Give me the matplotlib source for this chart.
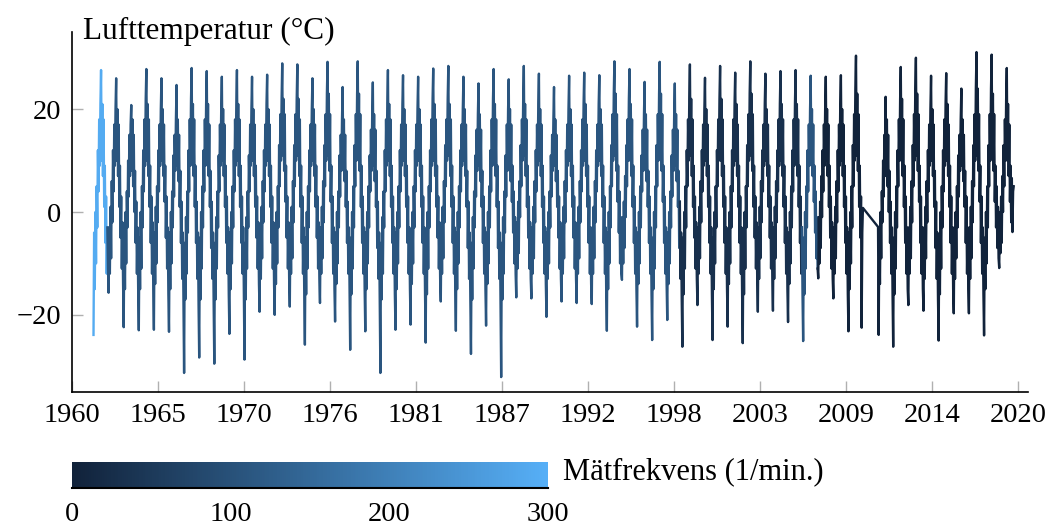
import numpy as np
import matplotlib.pyplot as plt
from matplotlib.colors import LinearSegmentedColormap, Normalize
from matplotlib.cm import ScalarMappable

plt.rcParams['font.family'] = ['Liberation Serif', 'DejaVu Serif']

# =====================================================
# Data
# =====================================================

# time span of the two recorded parts, data gap in between
start_a, end_a = 1961.364, 2010.16
start_b, end_b = 2011.12, 2019.725

# one row per seasonal cycle (half-month steps), winter low first,
# summer high in the middle
rows_a = [
    [-23.9, -4, -15, 0, -10, 5, -3, 12, 4, 18, 9, 21, 27.6, 10, 21, 7, 18, 1, 9, -6, 3, -12, -3, -11],
    [-15.7, -3, -12, 1, -9, 6, -2, 12, 4, 17, 9, 20, 26.0, 10, 20, 7, 17, 1, 9, -5, 3, -11, -2, -14],
    [-22.4, -4, -15, 0, -10, 4, -3, 10, 3, 15, 7, 17, 20.8, 8, 18, 5, 15, 0, 8, -6, 2, -12, -3, -15],
    [-23.0, -5, -15, 0, -11, 5, -3, 12, 4, 18, 9, 22, 27.8, 10, 21, 7, 18, 1, 9, -6, 3, -12, -2, -15],
    [-22.9, -4, -14, 1, -10, 5, -2, 12, 4, 17, 9, 20, 26.0, 10, 20, 7, 17, 2, 9, -5, 3, -11, -3, -16],
    [-23.3, -4, -15, 0, -10, 4, -3, 11, 3, 15, 8, 18, 24.7, 9, 18, 6, 15, 1, 8, -6, 2, -13, -4, -17],
    [-31.3, -6, -17, -1, -12, 4, -4, 12, 4, 18, 9, 22, 28.0, 10, 21, 7, 18, 1, 9, -6, 2, -13, -4, -18],
    [-28.3, -5, -17, 0, -11, 5, -3, 12, 4, 18, 9, 21, 27.4, 10, 21, 7, 17, 1, 8, -7, 2, -13, -4, -18],
    [-29.5, -6, -17, -1, -11, 4, -3, 11, 4, 17, 9, 20, 26.3, 10, 20, 7, 17, 1, 9, -6, 3, -12, -3, -16],
    [-23.7, -4, -15, 0, -10, 5, -3, 12, 4, 18, 9, 21, 27.6, 10, 21, 7, 18, 1, 9, -6, 3, -12, -3, -17],
    [-28.7, -6, -17, -1, -11, 4, -3, 11, 4, 17, 9, 20, 26.3, 10, 20, 7, 17, 1, 9, -5, 3, -11, -2, -14],
    [-19.4, -3, -13, 1, -9, 6, -2, 12, 4, 17, 9, 21, 26.7, 10, 20, 7, 17, 1, 9, -6, 3, -11, -2, -14],
    [-20.0, -4, -14, 0, -10, 5, -3, 13, 5, 19, 10, 22, 28.9, 11, 22, 8, 19, 2, 9, -5, 3, -11, -2, -13],
    [-18.4, -3, -12, 1, -9, 6, -2, 13, 5, 19, 10, 22, 28.7, 11, 22, 7, 18, 1, 9, -6, 3, -12, -3, -16],
    [-25.8, -5, -16, 0, -11, 5, -3, 12, 4, 17, 9, 20, 26.0, 10, 20, 7, 17, 1, 9, -5, 3, -11, -2, -13],
    [-17.7, -3, -12, 1, -9, 6, -2, 13, 5, 19, 10, 23, 29.2, 11, 23, 8, 19, 2, 9, -6, 3, -12, -3, -15],
    [-21.3, -4, -14, 0, -10, 4, -3, 11, 3, 15, 8, 18, 24.3, 9, 18, 6, 15, 1, 8, -6, 2, -12, -3, -16],
    [-26.8, -5, -16, 0, -11, 5, -3, 13, 5, 19, 10, 23, 29.3, 11, 23, 8, 19, 1, 9, -6, 3, -12, -3, -15],
    [-23.2, -4, -15, 0, -10, 5, -3, 11, 4, 16, 8, 19, 25.2, 9, 19, 6, 16, 1, 8, -7, 2, -13, -4, -17],
    [-31.3, -6, -17, -1, -12, 4, -3, 12, 4, 18, 9, 21, 27.6, 10, 21, 7, 18, 1, 9, -6, 3, -12, -3, -16],
    [-22.9, -4, -15, 0, -10, 5, -3, 12, 4, 17, 9, 21, 26.6, 10, 20, 7, 17, 1, 9, -6, 3, -12, -3, -15],
    [-21.9, -4, -14, 0, -10, 5, -3, 12, 4, 17, 9, 20, 26.3, 10, 20, 7, 17, 1, 9, -6, 3, -12, -3, -16],
    [-25.4, -5, -16, 0, -11, 5, -3, 12, 4, 18, 9, 22, 27.9, 10, 21, 7, 18, 1, 9, -5, 3, -11, -2, -13],
    [-17.4, -3, -12, 1, -9, 6, -2, 13, 5, 18, 10, 22, 28.4, 11, 21, 7, 18, 1, 9, -6, 3, -12, -3, -15],
    [-23.1, -4, -15, 0, -10, 5, -3, 12, 4, 17, 9, 20, 26.3, 10, 20, 7, 17, 1, 8, -7, 2, -13, -4, -17],
    [-27.6, -6, -17, -1, -11, 4, -3, 11, 3, 16, 8, 19, 25.0, 9, 19, 6, 16, 1, 8, -6, 3, -12, -3, -15],
    [-22.1, -4, -14, 0, -10, 5, -3, 12, 4, 18, 9, 22, 27.8, 10, 21, 7, 18, 1, 9, -7, 2, -13, -4, -18],
    [-32.1, -6, -17, -1, -12, 4, -4, 11, 3, 17, 8, 20, 25.8, 9, 20, 6, 17, 2, 9, -4, 4, -10, -1, -12],
    [-16.6, -2, -11, 2, -8, 6, -1, 13, 5, 18, 10, 22, 28.4, 11, 21, 7, 18, 1, 9, -5, 3, -11, -2, -13],
    [-16.8, -3, -12, 1, -9, 6, -2, 12, 4, 17, 9, 21, 26.9, 10, 20, 7, 17, 1, 9, -6, 3, -12, -3, -14],
    [-20.4, -4, -13, 0, -10, 4, -3, 11, 3, 15, 8, 18, 24.3, 9, 18, 6, 15, 1, 8, -5, 3, -11, -2, -13],
    [-17.4, -3, -12, 1, -9, 6, -2, 12, 4, 17, 9, 20, 26.5, 10, 20, 7, 17, 1, 9, -5, 3, -11, -2, -13],
    [-17.7, -3, -12, 1, -9, 6, -2, 12, 4, 18, 9, 21, 27.1, 10, 21, 7, 17, 1, 9, -6, 3, -12, -3, -14],
    [-17.9, -3, -12, 1, -9, 6, -2, 12, 4, 17, 9, 21, 26.6, 10, 20, 7, 17, 1, 9, -6, 3, -12, -3, -16],
    [-23.1, -4, -15, 0, -10, 5, -3, 13, 5, 19, 10, 23, 29.3, 11, 23, 8, 19, 2, 9, -4, 4, -10, -1, -12],
    [-13.2, -1, -10, 2, -7, 7, -1, 13, 5, 18, 10, 22, 27.8, 10, 21, 7, 18, 1, 9, -6, 3, -12, -3, -15],
    [-22.3, -4, -14, 0, -10, 5, -3, 11, 4, 16, 8, 19, 25.3, 9, 19, 6, 16, 1, 8, -6, 3, -12, -3, -16],
    [-24.9, -5, -15, 0, -11, 5, -3, 13, 5, 19, 10, 23, 29.2, 11, 23, 8, 19, 2, 9, -6, 3, -12, -3, -14],
    [-21.0, -4, -14, 0, -10, 4, -3, 11, 3, 16, 8, 19, 25.0, 9, 19, 6, 16, 1, 8, -7, 2, -13, -4, -17],
    [-26.2, -5, -16, 0, -11, 5, -3, 12, 5, 18, 10, 22, 28.7, 11, 22, 7, 18, 1, 9, -5, 3, -11, -2, -13],
    [-18.1, -3, -12, 1, -9, 6, -2, 12, 4, 17, 9, 20, 26.1, 10, 20, 7, 17, 1, 9, -6, 3, -12, -3, -16],
    [-24.9, -5, -15, 0, -10, 5, -3, 12, 5, 18, 10, 22, 28.4, 10, 22, 7, 18, 1, 9, -6, 3, -12, -3, -15],
    [-22.3, -4, -14, 0, -10, 5, -3, 12, 4, 18, 9, 21, 27.1, 10, 21, 7, 17, 1, 9, -6, 3, -12, -3, -16],
    [-25.5, -5, -16, 0, -11, 5, -3, 13, 5, 19, 10, 23, 29.3, 11, 23, 8, 19, 1, 9, -5, 3, -11, -2, -13],
    [-19.4, -3, -13, 1, -9, 6, -2, 12, 4, 17, 9, 21, 26.9, 10, 20, 7, 17, 1, 9, -5, 3, -11, -2, -13],
    [-19.2, -3, -13, 1, -9, 6, -2, 12, 4, 18, 9, 21, 27.4, 10, 21, 7, 18, 1, 9, -6, 3, -12, -3, -15],
    [-21.4, -4, -14, 0, -10, 5, -3, 12, 4, 18, 9, 21, 27.6, 10, 21, 7, 18, 1, 9, -6, 3, -12, -3, -16],
    [-25.1, -5, -16, 0, -11, 5, -3, 12, 4, 17, 9, 20, 26.5, 10, 20, 7, 17, 2, 9, -4, 4, -9, -1, -11],
    [-12.9, -1, -10, 2, -7, 7, -1, 12, 4, 17, 9, 20, 26.3, 10, 20, 7, 17, 1, 9, -5, 3, -11, -2, -13],
    [-16.8, -3, -12, 1, -9, 6, -2, 12, 4, 17, 9, 21, 26.6, 10, 20, 7, 17, 1, 9, -6, 3, -12, -3, -16],
    [-23.2, -4, -15, 0, -10, 5, -3, 13, 5, 19, 10, 24, 30.4, 11, 23, 8, 19, 1, 9, -5, 3, -22.5, -4, 0.8],
]

rows_b = [
    [-2.9, -23.9, -5, -14, 0, -9, 4, -2, 10, 3, 15, 7, 22.4, 8, 18, 5, 15, 0, 8, -6, 2, -12, -3, -16],
    [-26.2, -5, -16, 0, -11, 5, -3, 12, 5, 18, 10, 22, 28.2, 10, 22, 7, 18, 1, 9, -6, 3, -12, -3, -15],
    [-18.1, -3, -12, 1, -9, 6, -2, 13, 5, 19, 10, 24, 30.0, 11, 23, 8, 19, 2, 9, -6, 3, -12, -3, -15],
    [-19.2, -3, -13, 1, -9, 6, -2, 12, 4, 17, 9, 20, 26.5, 10, 20, 7, 17, 1, 8, -7, 2, -13, -4, -17],
    [-25.0, -5, -16, 0, -11, 5, -3, 12, 4, 18, 9, 21, 27.0, 10, 21, 7, 17, 1, 9, -6, 3, -12, -3, -15],
    [-19.7, -3, -13, 0, -9, 5, -3, 11, 3, 15, 8, 18, 24.0, 9, 18, 6, 15, 1, 8, -6, 3, -12, -3, -15],
    [-19.7, -3, -13, 1, -9, 6, -2, 13, 5, 19, 10, 24, 31.1, 11, 24, 8, 19, 2, 9, -6, 3, -12, -3, -16],
    [-24.0, -5, -15, 0, -10, 5, -3, 13, 5, 19, 10, 24, 30.6, 11, 23, 8, 19, 2, 9, -3, 5, -7, 1, -9],
    [-10.9, 0, -8, 3, -6, 7, 0, 13, 5, 18, 10, 22, 28.0, 10, 21, 7, 17, 2, 9, -2, 6.6, -3.9, 4, 5],
]

# measurement frequency (1/min.) and the time it switches
freq_change = [1961.33, 1962.25, 1998.56, 2006.30, 2007.31]
freq_value = [290, 110, 30, 110, 2]

xtick_labels = ['1960', '1965', '1970', '1976', '1981', '1987',
                '1992', '1998', '2003', '2009', '2014', '2020']
ytick_values = [-20, 0, 20]
cbar_ticks = [0, 100, 200, 300]

# =====================================================
# Build series
# =====================================================

temp_a = np.concatenate([np.array(r, float) for r in rows_a])
temp_b = np.concatenate([np.array(r, float) for r in rows_b])
t = np.concatenate([np.linspace(start_a, end_a, len(temp_a)),
                    np.linspace(start_b, end_b, len(temp_b))])
temp = np.concatenate([temp_a, temp_b])

idx = np.clip(np.searchsorted(freq_change, t, side='right') - 1, 0, None)
freq = np.array(freq_value)[idx]

cmap = LinearSegmentedColormap.from_list('matfrekvens', ['#11223a', '#56aff7'])
norm = Normalize(0, 300)

# =====================================================
# Plot
# =====================================================

W, H = 1049, 526
fig = plt.figure(figsize=(W/100, H/100), dpi=100)
ax = fig.add_axes([72/W, 1-392/H, 956/W, 360/H])

breaks = np.flatnonzero(np.diff(freq)) + 1
starts = np.r_[0, breaks]
ends = np.r_[breaks, len(t)]
for s, e in zip(starts, ends):
    s0 = max(s-1, 0)
    ax.plot(t[s0:e], temp[s0:e], color=cmap(norm(freq[s])), lw=1.7)

ax.set_xlim(1960, 2020.63)
ax.set_ylim(-35, 35)
ax.set_xticks(np.linspace(1960, 2020, len(xtick_labels)))
ax.set_xticklabels(xtick_labels)
ax.set_yticks(ytick_values)

for side in ['top', 'right']:
    ax.spines[side].set_visible(False)
for side in ['left', 'bottom']:
    ax.spines[side].set_linewidth(1.2)

ax.tick_params(direction='in', length=8, width=1, color='#b0b0b0', labelsize=20.5)
ax.tick_params(axis='x', pad=8)
ax.tick_params(axis='y', pad=8)

ax.text(0.012, (392-39)/360, 'Lufttemperatur (°C)', transform=ax.transAxes,
        fontsize=22.5, ha='left', va='baseline')

# ---- colour bar ----
cax = fig.add_axes([72/W, 1-488/H, 476/W, 26/H])
cb = fig.colorbar(ScalarMappable(norm=norm, cmap=cmap), cax=cax, orientation='horizontal')
cb.set_ticks(cbar_ticks)
cb.outline.set_visible(False)
cax.tick_params(length=0, labelsize=20.5, pad=10)
cax.plot([0, 1], [0, 0], transform=cax.transAxes, color='black', lw=1.5, clip_on=False)

fig.text(563/W, 1-472/H, 'Mätfrekvens (1/min.)', fontsize=22, ha='left', va='center')

fig.savefig('out.png', dpi=100)
